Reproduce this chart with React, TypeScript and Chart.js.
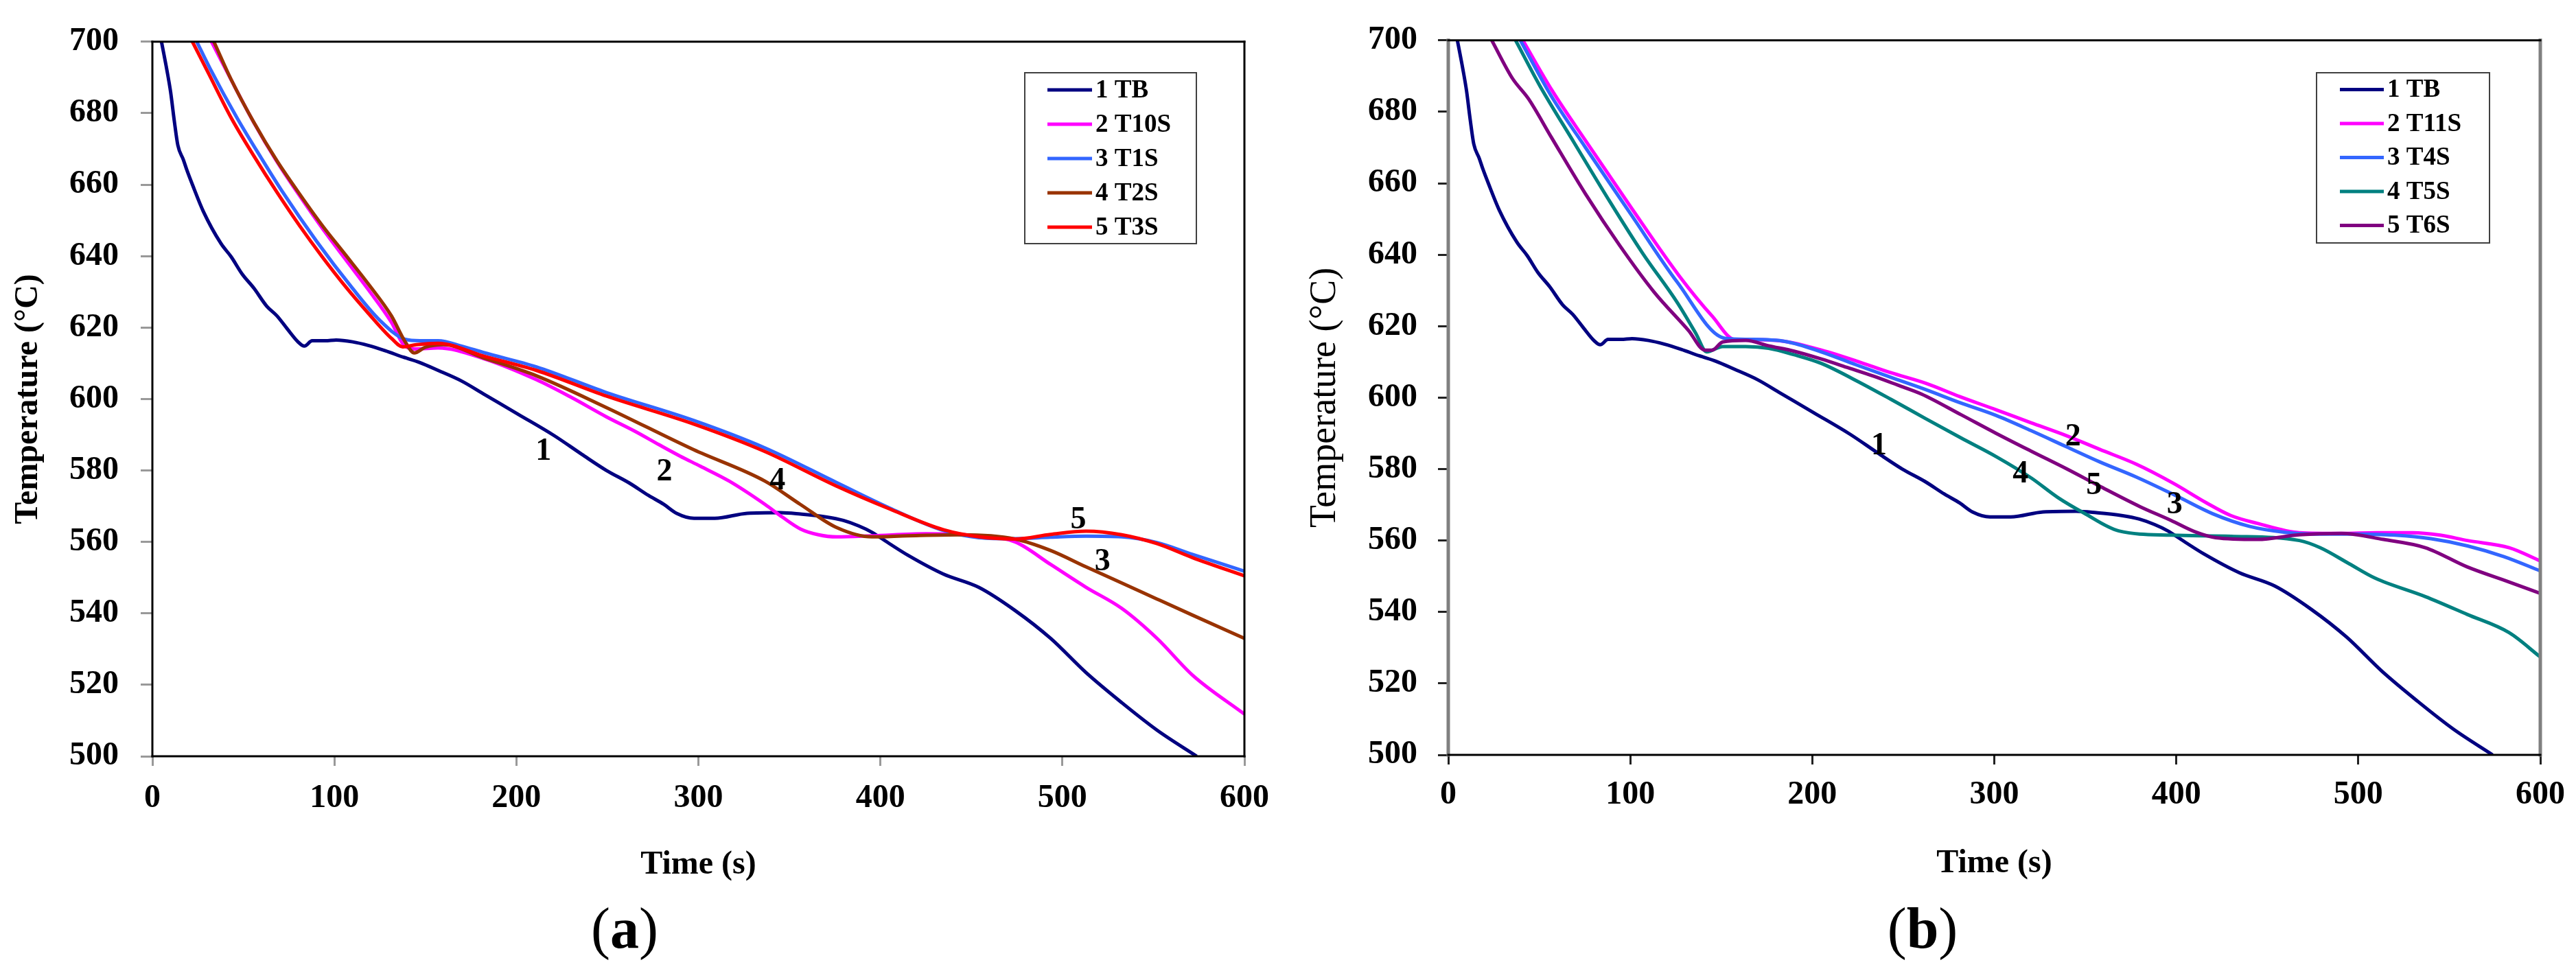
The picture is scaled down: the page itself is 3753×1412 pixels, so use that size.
import { useEffect, useRef } from 'react';
import Chart from 'chart.js/auto';

// cooling curves (time in s, temperature in °C)
const tbTime = [5, 8, 10, 12, 14, 17, 19, 22, 28, 37.7, 43.3, 49.3, 55.8, 62.8, 68.4, 74.3, 80, 83.5, 87.8, 95, 101, 110, 118.6, 128, 137.9, 147, 157, 170, 182, 201.4, 220.6, 236, 249.5, 262, 272.6, 281, 288, 297.6, 309, 326.8, 345, 356, 370, 379.7, 388, 395, 405, 415, 434.6, 454, 474, 493.5, 513, 532.6, 552, 573.8];
const tbTemp = [700, 692, 686, 678, 671, 667, 664, 660, 652.5, 643.5, 639.8, 635, 631, 626, 623.3, 619.5, 616, 614.8, 616.3, 616.3, 616.5, 616, 615, 613.5, 611.7, 610.2, 608, 605, 601.4, 595.6, 589.8, 584.5, 580, 576.5, 573, 570.5, 568, 566.6, 566.6, 568, 568.2, 567.8, 567, 566, 564.5, 562.8, 559.5, 556.3, 551, 547.3, 540.8, 533, 523.4, 515, 507.3, 500];

// panel (a)
const t10sTime = [32.5, 43, 55.5, 68, 81, 93.6, 106.2, 118.8, 131.3, 138, 145, 157, 182, 211, 230, 249.5, 265, 278.4, 290, 301, 317, 336.6, 346, 356.2, 366, 376, 395.4, 425, 454, 474, 493.5, 513, 532.6, 552, 571.5, 600];
const t10sTemp = [700, 689.6, 677.6, 666.8, 656.8, 647.6, 639, 630.5, 621.5, 615.2, 614, 614.3, 611.3, 605.4, 600.5, 595, 591, 587.2, 584, 581.2, 577, 570.5, 567, 563.6, 562, 561.4, 561.7, 562.3, 561.7, 560, 553.7, 547.3, 541.4, 533, 522.7, 511.8];

const t1sTime = [24.4, 31.7, 46.5, 60, 71.6, 90, 109.3, 125, 138.9, 147, 157, 170, 182, 211, 249.5, 297.4, 336.6, 376, 405, 434.6, 454, 474, 493.5, 513, 532.6, 552, 571.5, 600];
const t1sTemp = [700, 692.5, 678.7, 667.3, 657.9, 644.3, 631.4, 622, 616.7, 616.3, 616.3, 614.8, 613, 609, 601.8, 594, 586.3, 576.6, 569.5, 563.2, 561.2, 560.9, 561.3, 561.6, 561.4, 559.8, 556.5, 551.8];

const t2sTime = [33.8, 43.3, 55.8, 68.4, 81, 93.6, 106.2, 118.8, 131.3, 138.9, 143.9, 150, 160, 182, 211, 249.5, 297.4, 336.6, 356, 376, 395.4, 415, 444.5, 474, 493.5, 513, 532.6, 552, 571.5, 600];
const t2sTemp = [700, 689.4, 677.4, 666.7, 657.3, 648.4, 640.3, 632.1, 623.3, 616, 612.9, 614.5, 615.2, 611.5, 606.5, 597.6, 585.8, 577, 570.5, 564, 561.4, 561.7, 562, 560.8, 557.6, 553, 548.5, 544, 539.5, 533];

const t3sTime = [22, 30.7, 43.3, 55.8, 68.4, 81, 93.6, 106.2, 118.8, 131.3, 137.6, 145, 157, 182, 211, 249.5, 297.4, 336.6, 376, 405.2, 434.6, 454.3, 474, 493.5, 513, 532.6, 552, 571.5, 600];
const t3sTemp = [700, 691.3, 678.7, 668, 657.9, 648.4, 639.6, 631.4, 623.9, 617, 614.6, 615.2, 615.6, 612, 608, 600.8, 593, 585.3, 575.6, 569.2, 563.4, 561.4, 560.8, 562.1, 563, 562, 559.5, 555.6, 550.5];

// panel (b)
const t11sTime = [41, 57, 76, 101, 127, 145, 157.7, 170, 185.5, 205, 224, 243, 262.5, 281, 301, 320, 339.4, 358, 377.9, 398.5, 416.4, 430, 444.6, 467.6, 490.7, 510, 529.9, 545, 559.9, 582.9, 600];
const t11sTemp = [700, 686, 671.5, 652.8, 634, 622.8, 616.2, 616.2, 615.7, 613.3, 610.3, 607, 604, 600.3, 596.6, 593, 589.4, 585.5, 581.4, 576, 570.6, 567, 564.8, 562.2, 562, 562.2, 562.2, 561.5, 560, 558, 554.3];

const t4sTime = [39.6, 56.6, 75.4, 100.5, 125.7, 152, 165, 185.5, 205, 224, 243, 262.5, 281, 301, 320, 339.4, 358, 377.9, 400, 420, 440, 460, 480, 500, 520, 540, 560, 580, 600];
const t4sTemp = [700, 684.4, 670, 651.2, 632.4, 616.6, 616.3, 615.7, 612.8, 609.2, 605.7, 602.2, 598.6, 595, 590.8, 586.3, 582, 577.8, 572.5, 567.5, 564, 562.3, 561.8, 561.8, 561.5, 560.5, 558.5, 555.5, 551.5];

const t5sTime = [37, 50.3, 69.1, 88, 106.8, 125.7, 136, 142, 150.8, 163.4, 176, 190, 204.8, 224, 243.3, 262, 281.8, 301, 320.3, 335, 349.2, 368.4, 397.2, 430, 467.6, 479, 495, 509.1, 536.8, 559.9, 582.9, 600];
const t5sTemp = [700, 687.3, 671.4, 655.5, 640.4, 626.7, 618, 612.8, 614.3, 614.3, 613.8, 612, 609.6, 604.8, 599.5, 594.2, 588.7, 583.5, 577.5, 572, 567.7, 562.7, 561.5, 561.2, 560, 558, 553.5, 549.5, 544.3, 539.3, 534.2, 527.4];

const t6sTime = [23.9, 35.2, 44, 56.6, 75.4, 94.3, 113, 132, 141, 145, 150.8, 163.4, 176, 190, 205, 220, 233.7, 247, 260, 281.8, 301, 320.3, 340, 358.7, 380, 397.2, 410, 421.6, 444.6, 467.6, 490.7, 513.8, 536.8, 559.9, 582.9, 600];
const t6sTemp = [700, 689.4, 683.7, 672.9, 657, 642.5, 629.6, 618.8, 613.3, 613.3, 615.6, 616, 614.5, 613, 610.8, 608.3, 606, 603.5, 601, 595.2, 590, 585, 580, 575, 569.5, 565.6, 562.5, 560.8, 560.3, 561.6, 562, 560.3, 558, 552.6, 548.4, 545.2];

const xTicks = [0, 100, 200, 300, 400, 500, 600];
const yTicks = [500, 520, 540, 560, 580, 600, 620, 640, 660, 680, 700];

const namesA = ['1 TB', '2 T10S', '3 T1S', '4 T2S', '5 T3S'];
const namesB = ['1 TB', '2 T11S', '3 T4S', '4 T5S', '5 T6S'];

// curve numbers written on the plots
const marksA = ['1', '2', '4', '5', '3'];
const markTimeA = [214.9, 281.3, 343.5, 508.7, 522];
const markTempA = [585.3, 579.5, 577, 566, 554.3];
const marksB = ['1', '2', '4', '5', '3'];
const markTimeB = [236.6, 343.3, 314.4, 354.8, 399.1];
const markTempB = [586.5, 589, 578.6, 575.3, 569.9];

const NAVY = '#000080';
const MAGENTA = '#ff00ff';
const BLUE = '#3366ff';
const BROWN = '#993300';
const RED = '#ff0000';
const TEAL = '#008080';
const PURPLE = '#800080';

const FONT = '"Liberation Serif", "Times New Roman", serif';
const H = 1412;

const specA = {
  width: 1876,
  names: namesA,
  colors: [NAVY, MAGENTA, BLUE, BROWN, RED],
  times: [tbTime, t10sTime, t1sTime, t2sTime, t3sTime],
  temps: [tbTemp, t10sTemp, t1sTemp, t2sTemp, t3sTemp],
  marks: marksA, markTime: markTimeA, markTemp: markTempA,
  area: { left: 222, top: 44, right: 1813, bottom: 1102 },
  xTick: { len: 14, pad: 19 },
  yTick: { len: 17, pad: 32 },
  tickColor: '#999999',
  yTitle: { weight: 'bold', size: 48, pad: 13 },
  xTitlePad: 13,
  frame: { h: '#000000', hw: 3, v: '#000000', vw: 3 },
  legend: { x: 1493, y: 106, w: 250, h: 249, l0: 1526, l1: 1591, tx: 1596, r0: 131, step: 50 },
};

const specB = {
  width: 1877,
  names: namesB,
  colors: [NAVY, MAGENTA, BLUE, TEAL, PURPLE],
  times: [tbTime, t11sTime, t4sTime, t5sTime, t6sTime],
  temps: [tbTemp, t11sTemp, t4sTemp, t5sTemp, t6sTemp],
  marks: marksB, markTime: markTimeB, markTemp: markTempB,
  area: { left: 234, top: 39, right: 1825, bottom: 1100 },
  xTick: { len: 14, pad: 16 },
  yTick: { len: 15, pad: 30 },
  tickColor: '#222222',
  yTitle: { weight: 'normal', size: 54, pad: 22 },
  xTitlePad: 13,
  frame: { h: '#000000', hw: 3, v: '#808080', vw: 5 },
  legend: { x: 1499, y: 106, w: 252, h: 248, l0: 1533, l1: 1597, tx: 1602, r0: 130.6, step: 49.5 },
};

function Panel({ spec, left }: { spec: any; left: number }) {
  const canvas = useRef<HTMLCanvasElement>(null);

  useEffect(() => {
    const s = spec;
    const a = s.area;

    const frame = {
      id: 'frame',
      afterDatasetsDraw(chart: any) {
        const { ctx, chartArea: c } = chart;
        ctx.save();
        ctx.lineCap = 'square';
        ctx.strokeStyle = s.frame.v;
        ctx.lineWidth = s.frame.vw;
        ctx.beginPath();
        ctx.moveTo(c.left, c.top); ctx.lineTo(c.left, c.bottom);
        ctx.moveTo(c.right, c.top); ctx.lineTo(c.right, c.bottom);
        ctx.stroke();
        ctx.strokeStyle = s.frame.h;
        ctx.lineWidth = s.frame.hw;
        ctx.beginPath();
        ctx.moveTo(c.left, c.top); ctx.lineTo(c.right, c.top);
        ctx.moveTo(c.left, c.bottom); ctx.lineTo(c.right, c.bottom);
        ctx.stroke();
        ctx.restore();
      },
    };

    const marks = {
      id: 'marks',
      afterDatasetsDraw(chart: any) {
        const { ctx, scales } = chart;
        ctx.save();
        ctx.font = `bold 46px ${FONT}`;
        ctx.fillStyle = '#000';
        ctx.textAlign = 'center';
        ctx.textBaseline = 'middle';
        s.marks.forEach((m: string, i: number) => {
          ctx.fillText(m, scales.x.getPixelForValue(s.markTime[i]), scales.y.getPixelForValue(s.markTemp[i]));
        });
        ctx.restore();
      },
    };

    const legendBox = {
      id: 'legendBox',
      afterDraw(chart: any) {
        const { ctx } = chart;
        const L = s.legend;
        ctx.save();
        ctx.fillStyle = '#fff';
        ctx.fillRect(L.x, L.y, L.w, L.h);
        ctx.strokeStyle = '#404040';
        ctx.lineWidth = 2;
        ctx.strokeRect(L.x, L.y, L.w, L.h);
        ctx.font = `bold 37px ${FONT}`;
        ctx.textBaseline = 'middle';
        ctx.textAlign = 'left';
        s.names.forEach((n: string, i: number) => {
          const y = L.r0 + i * L.step;
          ctx.strokeStyle = s.colors[i];
          ctx.lineWidth = 5;
          ctx.beginPath();
          ctx.moveTo(L.l0, y);
          ctx.lineTo(L.l1, y);
          ctx.stroke();
          ctx.fillStyle = '#000';
          ctx.fillText(n, L.tx, y + 1);
        });
        ctx.restore();
      },
    };

    const datasets = s.names.map((n: string, i: number) => ({
      label: n,
      data: s.times[i].map((t: number, j: number) => ({ x: t, y: s.temps[i][j] })),
      borderColor: s.colors[i],
      backgroundColor: s.colors[i],
      borderWidth: 5,
      pointRadius: 0,
      fill: false,
      cubicInterpolationMode: 'monotone',
      order: s.names.length - 1 - i,
    }));

    const tickFont = { family: FONT, size: 48, weight: 'bold' };

    const chart = new Chart(canvas.current as HTMLCanvasElement, {
      type: 'line',
      data: { datasets },
      options: {
        animation: false,
        responsive: false,
        devicePixelRatio: 1,
        layout: {
          padding: { left: 0, top: a.top, right: s.width - a.right, bottom: H - a.bottom - 200 },
        },
        plugins: {
          legend: { display: false },
          tooltip: { enabled: false },
        },
        scales: {
          x: {
            type: 'linear',
            min: 0,
            max: 600,
            afterBuildTicks: (scale: any) => { scale.ticks = xTicks.map((v) => ({ value: v })); },
            afterFit: (scale: any) => { scale.height = 200; },
            ticks: { font: tickFont, color: '#000', padding: s.xTick.pad, maxRotation: 0 },
            grid: { drawOnChartArea: false, drawTicks: true, tickLength: s.xTick.len, tickColor: s.tickColor, tickWidth: 3 },
            border: { display: false },
            title: {
              display: true,
              text: 'Time (s)',
              color: '#000',
              font: { family: FONT, size: 48, weight: 'bold' },
              padding: { top: 0, bottom: s.xTitlePad },
            },
          },
          y: {
            type: 'linear',
            min: 500,
            max: 700,
            afterBuildTicks: (scale: any) => { scale.ticks = yTicks.map((v) => ({ value: v })); },
            afterFit: (scale: any) => { scale.width = a.left; },
            ticks: { font: tickFont, color: '#000', padding: s.yTick.pad },
            grid: { drawOnChartArea: false, drawTicks: true, tickLength: s.yTick.len, tickColor: s.tickColor, tickWidth: 3 },
            border: { display: false },
            title: {
              display: true,
              text: 'Temperature (°C)',
              color: '#000',
              font: { family: FONT, size: s.yTitle.size, weight: s.yTitle.weight },
              padding: { top: s.yTitle.pad, bottom: 0 },
            },
          },
        },
      },
      plugins: [frame, marks, legendBox],
    } as any);

    return () => {
      chart.destroy();
    };
  }, [spec]);

  return (
    <canvas
      ref={canvas}
      width={spec.width}
      height={H}
      style={{ position: 'absolute', left, top: 0, width: spec.width, height: H }}
    ></canvas>
  );
}

const captionStyle = (cx: number): React.CSSProperties => ({
  position: 'absolute',
  left: cx - 100,
  top: 1311,
  width: 200,
  textAlign: 'center',
  fontFamily: FONT,
  fontSize: 84,
  lineHeight: 1,
  color: '#000',
});

export default function App() {
  return (
    <div style={{ position: 'absolute', left: 0, top: 0, width: 3753, height: H, background: '#fff', overflow: 'hidden' }}>
      <Panel spec={specA} left={0} />
      <Panel spec={specB} left={1876} />
      <div style={captionStyle(910)}>(<b>a</b>)</div>
      <div style={captionStyle(2801)}>(<b>b</b>)</div>
    </div>
  );
}
